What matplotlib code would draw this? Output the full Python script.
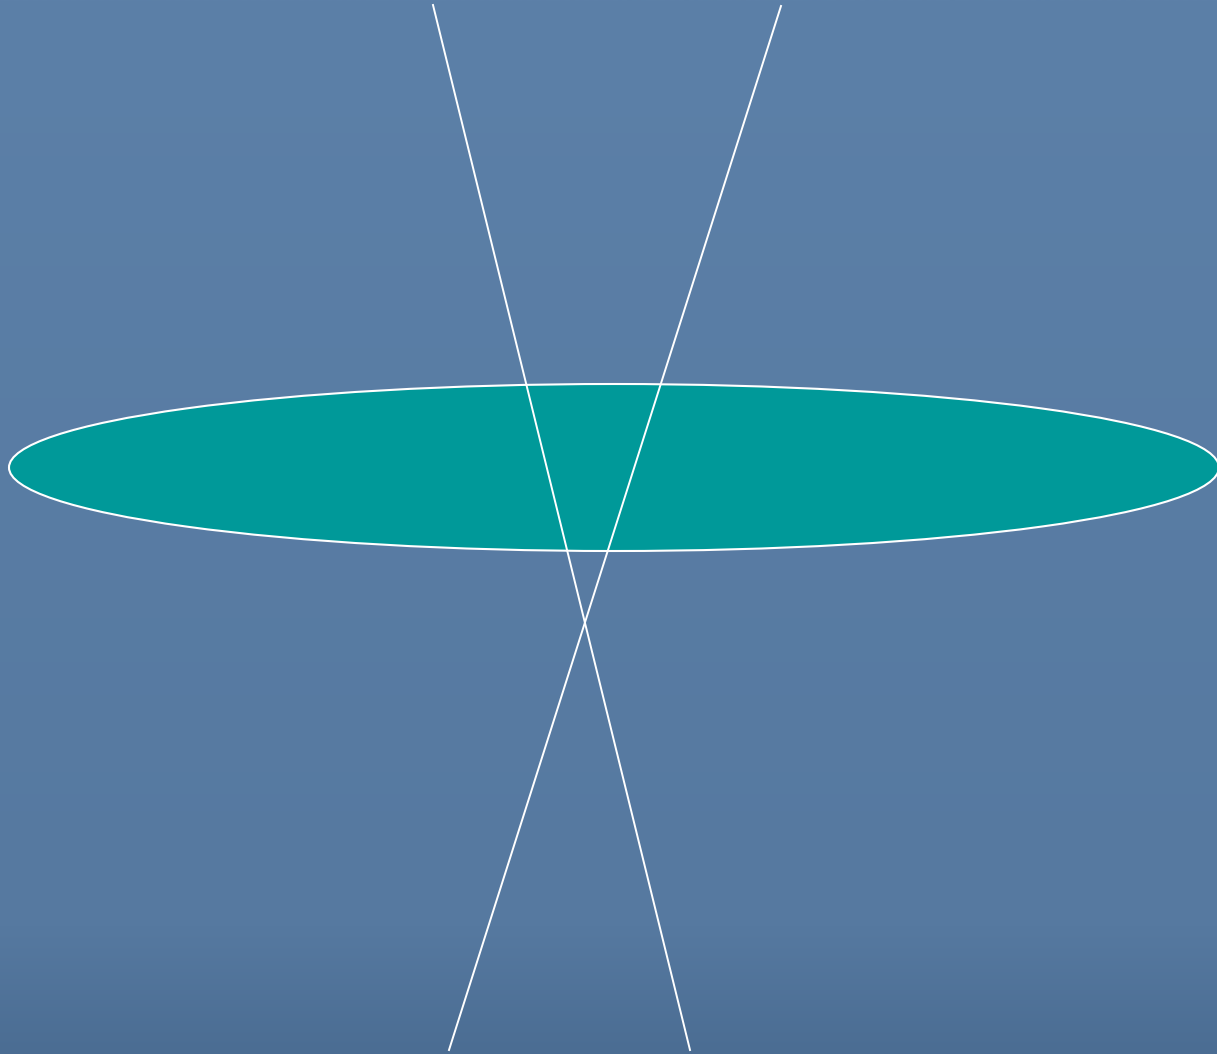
import numpy as np
import matplotlib
matplotlib.use("Agg")
import matplotlib.pyplot as plt
from matplotlib.patches import Ellipse

W, H = 1217, 1054

# Geometry (pixel coordinates, y downward)
line_a_x = [433, 690]
line_a_y = [5, 1050]
line_b_x = [781, 449]
line_b_y = [6, 1050]
ellipse_center = (614, 467.5)
ellipse_width = 1210
ellipse_height = 167

fig = plt.figure(figsize=(W / 100, H / 100), dpi=100)
ax = fig.add_axes([0, 0, 1, 1])
ax.set_xlim(0, W)
ax.set_ylim(H, 0)
ax.axis("off")

# Background: blue with a darker band at the bottom
top = np.array([0x5c, 0x80, 0xa8]) / 255
mid = np.array([0x56, 0x79, 0xa0]) / 255
bot = np.array([0x4b, 0x6d, 0x93]) / 255
ys = np.linspace(0, 1, 400)
cols = np.zeros((400, 1, 3))
for i, t in enumerate(ys):
    if t < 0.88:
        c = top + (mid - top) * (t / 0.88)
    else:
        c = mid + (bot - mid) * ((t - 0.88) / 0.12)
    cols[i, 0] = c
ax.imshow(cols, extent=[0, W, H, 0], aspect="auto", zorder=0, interpolation="bilinear")

ell = Ellipse(ellipse_center, ellipse_width, ellipse_height,
              facecolor="#009999", edgecolor="white", linewidth=1.5, zorder=2)
ax.add_patch(ell)

ax.plot(line_a_x, line_a_y, color="white", linewidth=1.4, zorder=3)
ax.plot(line_b_x, line_b_y, color="white", linewidth=1.4, zorder=3)

ax.set_xlim(0, W)
ax.set_ylim(H, 0)
fig.savefig("out.png", dpi=100)
